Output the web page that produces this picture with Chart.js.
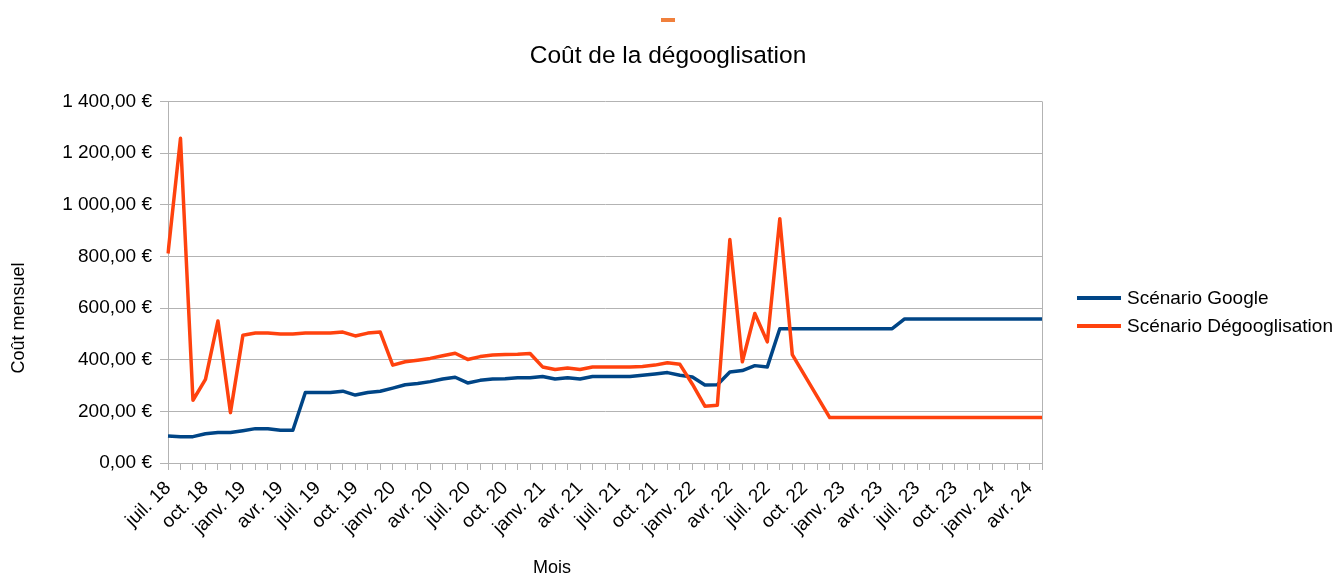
<!DOCTYPE html>
<html>
<head>
<meta charset="utf-8">
<script src="https://cdn.jsdelivr.net/npm/chart.js@4/dist/chart.umd.min.js"></script>
<style>
  html, body { margin: 0; padding: 0; background: #ffffff; }
  #wrap { width: 1336px; height: 576px; position: relative; }
</style>
</head>
<body>
<div id="wrap"><canvas id="c"></canvas></div>
<script>
const chartTitle = 'Coût de la dégooglisation';
const xTitle = 'Mois';
const yTitle = 'Coût mensuel';

const months = [
  'juil. 18','août 18','sept. 18','oct. 18','nov. 18','déc. 18',
  'janv. 19','févr. 19','mars 19','avr. 19','mai 19','juin 19','juil. 19','août 19','sept. 19','oct. 19','nov. 19','déc. 19',
  'janv. 20','févr. 20','mars 20','avr. 20','mai 20','juin 20','juil. 20','août 20','sept. 20','oct. 20','nov. 20','déc. 20',
  'janv. 21','févr. 21','mars 21','avr. 21','mai 21','juin 21','juil. 21','août 21','sept. 21','oct. 21','nov. 21','déc. 21',
  'janv. 22','févr. 22','mars 22','avr. 22','mai 22','juin 22','juil. 22','août 22','sept. 22','oct. 22','nov. 22','déc. 22',
  'janv. 23','févr. 23','mars 23','avr. 23','mai 23','juin 23','juil. 23','août 23','sept. 23','oct. 23','nov. 23','déc. 23',
  'janv. 24','févr. 24','mars 24','avr. 24','mai 24'
];

const googleCost = [
  105,102,102,113,118,118,125,133,133,127,127,
  273,273,273,278,263,273,278,290,303,308,315,325,332,
  310,320,325,326,330,330,335,325,330,325,335,335,335,335,340,345,350,340,333,302,303,
  352,358,377,372,
  520,520,520,520,520,520,520,520,520,520,
  558,558,558,558,558,558,558,558,558,558,558,558
];

const degooglisationCost = [
  811,1257,243,324,550,195,495,503,503,499,499,503,503,503,507,492,503,507,
  379,392,398,405,415,425,
  401,412,418,420,421,424,
  372,362,368,362,372,372,372,372,374,379,388,382,
  305,220,224,865,392,579,469,946,420,338,257,
  176,176,176,176,176,176,176,176,176,176,176,176,176,176,176,176,176,176
];

const seriesNames = ['Scénario Google', 'Scénario Dégooglisation'];
const seriesColors = ['#004586', '#ff420e'];

const yTickLabels = ['0,00 €','200,00 €','400,00 €','600,00 €','800,00 €','1 000,00 €','1 200,00 €','1 400,00 €'];

const FONT = '"Liberation Sans", Arial, sans-serif';
const GRID = '#b3b3b3';

const decor = {
  id: 'decor',
  afterDraw(chart) {
    const { ctx, chartArea } = chart;
    ctx.save();
    // small orange mark above the title
    ctx.fillStyle = '#f0803c';
    ctx.fillRect(chart.width / 2 - 7, 18, 14, 4);
    // axis titles (centred on the whole diagram, as in the original)
    ctx.fillStyle = '#000000';
    ctx.font = '18px ' + FONT;
    ctx.textAlign = 'center';
    ctx.textBaseline = 'middle';
    ctx.fillText(xTitle, 552, 568);
    ctx.save();
    ctx.translate(19, 318);
    ctx.rotate(-Math.PI / 2);
    ctx.fillText(yTitle, 0, 0);
    ctx.restore();
    // legend
    ctx.font = '19px ' + FONT;
    ctx.textAlign = 'left';
    chart.data.datasets.forEach((ds, i) => {
      const y = 298 + 28 * i;
      const x = chartArea.right + 35;
      ctx.fillStyle = ds.borderColor;
      ctx.fillRect(x, y - 2, 44, 4);
      ctx.fillStyle = '#000000';
      ctx.fillText(ds.label, x + 50, y + 1);
    });
    ctx.restore();
  }
};

new Chart(document.getElementById('c'), {
  type: 'line',
  data: {
    labels: months,
    datasets: [
      {
        label: seriesNames[0],
        data: googleCost,
        borderColor: seriesColors[0],
        backgroundColor: seriesColors[0],
        borderWidth: 3.5,
        pointRadius: 0,
        tension: 0,
        borderJoinStyle: 'round',
        order: 1
      },
      {
        label: seriesNames[1],
        data: degooglisationCost,
        borderColor: seriesColors[1],
        backgroundColor: seriesColors[1],
        borderWidth: 3.5,
        pointRadius: 0,
        tension: 0,
        borderJoinStyle: 'round',
        order: 0
      }
    ]
  },
  options: {
    responsive: true,
    maintainAspectRatio: false,
    animation: false,
    devicePixelRatio: 1,
    layout: { padding: 0 },
    plugins: {
      legend: { display: false },
      tooltip: { enabled: false },
      title: {
        display: true,
        text: chartTitle,
        color: '#000000',
        font: { family: FONT, size: 24.5, weight: 'normal' },
        padding: { top: 42, bottom: 30 }
      }
    },
    scales: {
      x: {
        type: 'category',
        offset: false,
        afterFit(scale) { scale.height = 113; },
        grid: {
          drawOnChartArea: true,
          color: (c) => (c.index === months.length - 1 ? GRID : 'rgba(0,0,0,0)'),
          tickColor: GRID,
          tickLength: 7,
          lineWidth: 1
        },
        border: { display: true, color: GRID },
        ticks: {
          autoSkip: false,
          minRotation: 45,
          maxRotation: 45,
          padding: 7,
          color: '#000000',
          font: { family: FONT, size: 19 },
          callback: (v, i) => (i % 3 === 0 ? months[i] : '')
        }
      },
      y: {
        min: 0,
        max: 1400,
        afterFit(scale) { scale.width = 168; },
        grid: { color: GRID, tickColor: GRID, tickLength: 8, lineWidth: 1 },
        border: { display: true, color: GRID },
        ticks: {
          stepSize: 200,
          padding: 8,
          color: '#000000',
          font: { family: FONT, size: 19 },
          callback: (v) => yTickLabels[Math.round(v / 200)]
        }
      },
      legendSpace: {
        type: 'linear',
        position: 'right',
        display: true,
        afterFit(scale) { scale.width = 294; },
        grid: { display: false, drawOnChartArea: false },
        border: { display: false },
        ticks: { display: false }
      }
    }
  },
  plugins: [decor]
});
</script>
</body>
</html>
